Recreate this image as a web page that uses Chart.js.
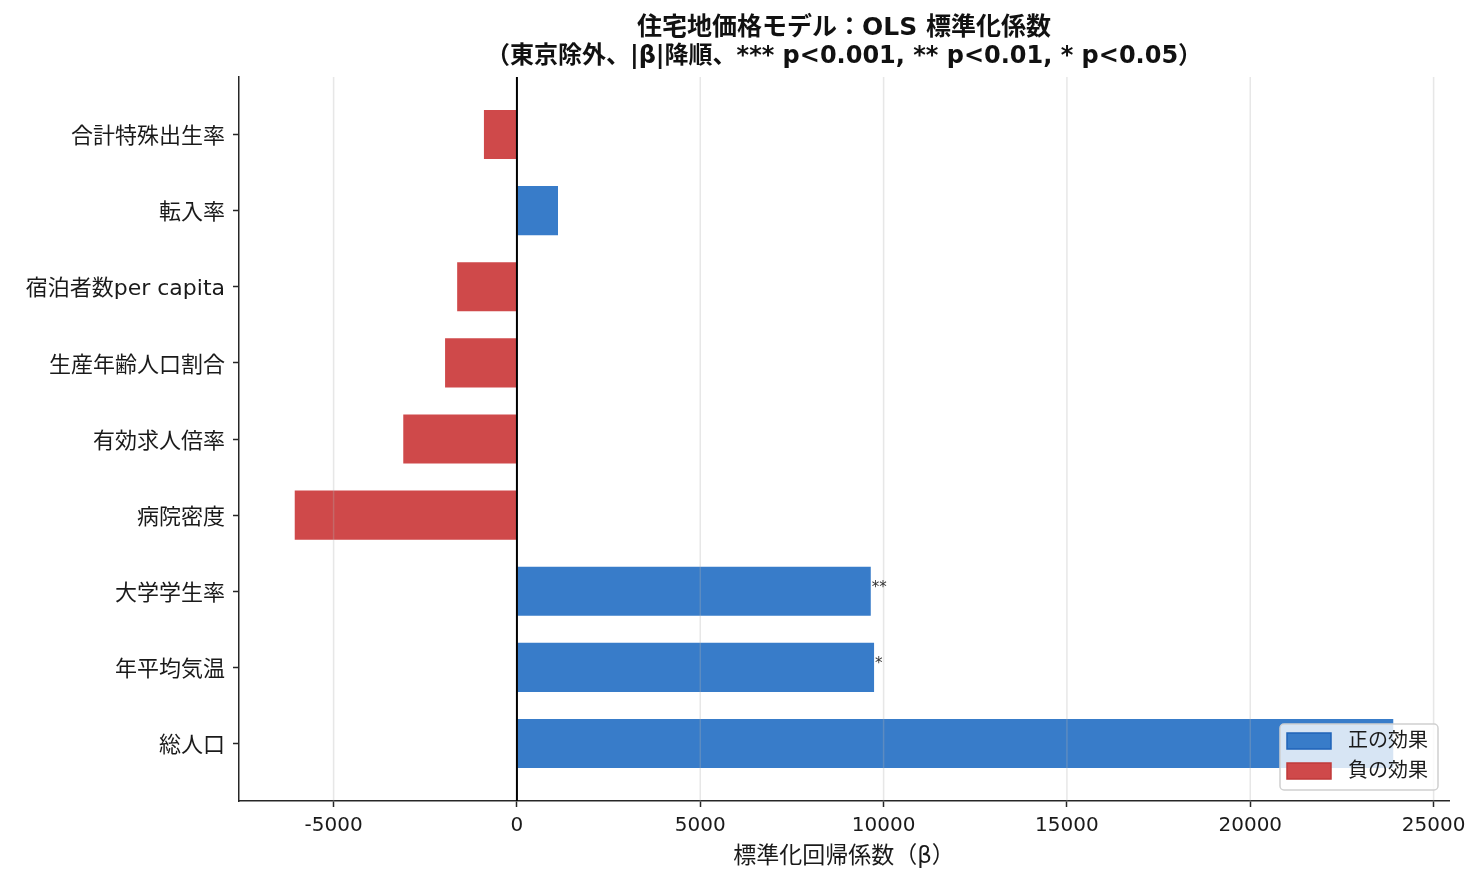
<!DOCTYPE html>
<html lang="ja">
<head>
<meta charset="utf-8">
<title>住宅地価格モデル：OLS 標準化係数</title>
<script src="https://cdn.jsdelivr.net/npm/chart.js@4/dist/chart.umd.min.js"></script>
<style>
  html, body { margin: 0; padding: 0; background: #fff; }
  #chart { display: block; }
</style>
</head>
<body>
<canvas id="chart" width="1484" height="884"></canvas>
<script>
// Data (bottom to top, as drawn by barh)
const labels = ['総人口', '年平均気温', '大学学生率', '病院密度', '有効求人倍率',
                '生産年齢人口割合', '宿泊者数per capita', '転入率', '合計特殊出生率'];
const betas = [23900, 9740, 9650, -6060, -3100, -1960, -1630, 1120, -900];
const stars = ['', '*', '**', '', '', '', '', '', ''];
const xTicks = [-5000, 0, 5000, 10000, 15000, 20000, 25000];

const FONT = "'DejaVu Sans', 'Noto Sans CJK JP', sans-serif";
const BLUE = '#387cc9';
const RED = '#cf494a';
const AXIS = '#262626';

const points = betas.map(function(v, i) { return { x: v, y: i }; });
const barColors = betas.map(function(v) { return v >= 0 ? BLUE : RED; });

// grid on top of the bars, zero line, significance marks, legend
const overlay = {
    id: 'overlay',
    afterDatasetsDraw: function(chart) {
        const ctx = chart.ctx;
        const area = chart.chartArea;
        const xs = chart.scales.x;
        const ys = chart.scales.y;
        ctx.save();

        ctx.strokeStyle = 'rgba(176,176,176,0.3)';
        ctx.lineWidth = 1.5;
        xTicks.forEach(function(t) {
            const px = xs.getPixelForValue(t);
            ctx.beginPath();
            ctx.moveTo(px, area.top);
            ctx.lineTo(px, area.bottom);
            ctx.stroke();
        });

        const zx = xs.getPixelForValue(0);
        ctx.strokeStyle = '#000';
        ctx.lineWidth = 2;
        ctx.beginPath();
        ctx.moveTo(zx, area.top);
        ctx.lineTo(zx, area.bottom);
        ctx.stroke();

        ctx.fillStyle = '#333';
        ctx.font = '15px ' + FONT;
        ctx.textBaseline = 'middle';
        betas.forEach(function(v, i) {
            if (!stars[i]) return;
            const px = xs.getPixelForValue(v);
            const py = ys.getPixelForValue(i);
            ctx.textAlign = v >= 0 ? 'left' : 'right';
            ctx.fillText(stars[i], v >= 0 ? px + 1 : px - 1, py - 3);
        });

        // legend, lower right
        const lx = 1280, ly = 724, lw = 158, lh = 66;
        ctx.fillStyle = 'rgba(255,255,255,0.8)';
        ctx.strokeStyle = '#d0d0d0';
        ctx.lineWidth = 1.5;
        ctx.beginPath();
        ctx.roundRect(lx, ly, lw, lh, 4);
        ctx.fill();
        ctx.stroke();

        const items = [
            { text: '正の効果', fill: BLUE, edge: '#1f63b8' },
            { text: '負の効果', fill: RED, edge: '#c03a3a' }
        ];
        items.forEach(function(it, k) {
            const cy = ly + 17 + k * 30;
            ctx.fillStyle = it.fill;
            ctx.strokeStyle = it.edge;
            ctx.lineWidth = 1.5;
            ctx.fillRect(lx + 7, cy - 8, 44, 16);
            ctx.strokeRect(lx + 7, cy - 8, 44, 16);
            ctx.fillStyle = '#1a1a1a';
            ctx.font = '20px ' + FONT;
            ctx.textAlign = 'left';
            ctx.textBaseline = 'middle';
            ctx.fillText(it.text, lx + 68, cy + 1);
        });
        ctx.restore();
    },
    afterDraw: function(chart) {
        const ctx = chart.ctx;
        ctx.save();
        ctx.fillStyle = '#111';
        ctx.textAlign = 'center';
        ctx.textBaseline = 'middle';
        const cx = (chart.chartArea.left + chart.chartArea.right) / 2;
        ctx.font = 'bold 25px ' + FONT;
        ctx.fillText('住宅地価格モデル：OLS 標準化係数', cx, 28);
        ctx.font = 'bold 24px ' + FONT;
        ctx.fillText('（東京除外、|β|降順、*** p<0.001, ** p<0.01, * p<0.05）', cx, 57);
        ctx.restore();
    }
};

new Chart(document.getElementById('chart').getContext('2d'), {
    type: 'bar',
    data: {
        datasets: [{
            data: points,
            backgroundColor: barColors,
            borderWidth: 0,
            barPercentage: 0.645,
            categoryPercentage: 1.0
        }]
    },
    options: {
        indexAxis: 'y',
        responsive: false,
        devicePixelRatio: 1,
        animation: false,
        layout: { padding: { top: 77, right: 35, left: 0, bottom: 0 } },
        plugins: {
            legend: { display: false },
            tooltip: { enabled: false },
            title: { display: false }
        },
        scales: {
            x: {
                type: 'linear',
                min: -7580,
                max: 25420,
                afterFit: function(scale) { scale.height = 83; },
                afterBuildTicks: function(scale) {
                    scale.ticks = xTicks.map(function(v) { return { value: v }; });
                },
                border: { color: AXIS, width: 1.5 },
                grid: { drawOnChartArea: false, tickColor: AXIS, tickLength: 6, tickWidth: 1.5 },
                ticks: {
                    color: '#1a1a1a',
                    font: { family: FONT, size: 20 },
                    padding: 7,
                    callback: function(v) { return String(v); }
                },
                title: {
                    display: true,
                    text: '標準化回帰係数（β）',
                    color: '#1a1a1a',
                    font: { family: FONT, size: 23 },
                    padding: { top: 0, bottom: 13 }
                }
            },
            y: {
                type: 'linear',
                offset: false,
                min: -0.755,
                max: 8.755,
                afterFit: function(scale) { scale.width = 239; },
                afterBuildTicks: function(scale) {
                    scale.ticks = labels.map(function(l, i) { return { value: i }; });
                },
                border: { color: AXIS, width: 1.5 },
                grid: { offset: false, drawOnChartArea: false, tickColor: AXIS, tickLength: 6, tickWidth: 1.5 },
                ticks: {
                    color: '#1a1a1a',
                    font: { family: FONT, size: 22 },
                    padding: 8,
                    labelOffset: 3,
                    autoSkip: false,
                    callback: function(v) { return labels[v]; }
                }
            }
        }
    },
    plugins: [overlay]
});
</script>
</body>
</html>
